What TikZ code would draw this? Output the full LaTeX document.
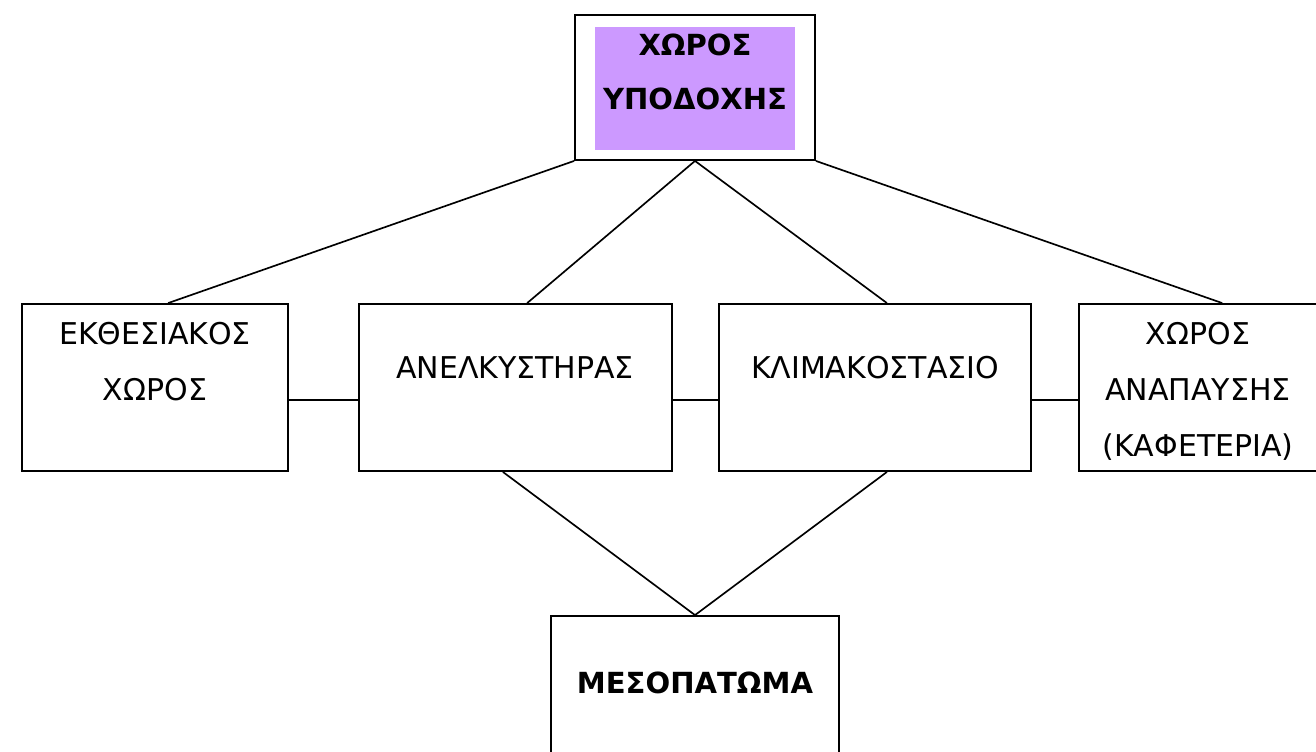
\documentclass[tikz,border=0pt]{standalone}
\usepackage{fontspec}
\setmainfont{DejaVu Sans}
\usetikzlibrary{fit,calc}
\definecolor{lilac}{HTML}{CC99FF}
\tikzset{
  box/.style={draw=black, line width=1.4pt, fill=white, inner sep=0pt},
  conn/.style={draw=black, line width=1.25pt},
  lbl/.style={font=\fontsize{22.5pt}{42pt}\selectfont, align=center, inner sep=0pt},
  blbl/.style={font=\fontsize{21.8pt}{41pt}\selectfont\bfseries, align=center, inner sep=0pt},
}
\begin{document}
\begin{tikzpicture}[x=0.75pt,y=-0.75pt]
\useasboundingbox (0,0) rectangle (1316,751);
\fill[white] (0,0) rectangle (1316,751);
\clip (0,0) rectangle (1316,751);
% boxes
\node[box, fit={(575,15) (815,160)}] (top) {};
\node[fill=lilac, inner sep=0pt, fit={(595,27) (795,150)}] (topfill) {};
\node[box, fit={(22,304) (288,471)}] (ekth) {};
\node[box, fit={(359,304) (672,471)}] (anel) {};
\node[box, fit={(719,304) (1031,471)}] (klim) {};
\node[box, fit={(1079,304) (1330,471)}] (anap) {};
\node[box, fit={(551,616) (839,780)}] (meso) {};
% texts
\node[blbl] (ttop) at (695,72) {ΧΩΡΟΣ\\ΥΠΟΔΟΧΗΣ};
\node[lbl] (tekth) at (155,362) {ΕΚΘΕΣΙΑΚΟΣ\\ΧΩΡΟΣ};
\node[lbl] (tanel) at (515,368) {ΑΝΕΛΚΥΣΤΗΡΑΣ};
\node[lbl] (tklim) at (875,368) {ΚΛΙΜΑΚΟΣΤΑΣΙΟ};
\node[lbl] (tanap) at (1198,391) {ΧΩΡΟΣ\\ΑΝΑΠΑΥΣΗΣ\\(ΚΑΦΕΤΕΡΙΑ)};
\node[blbl] (tmeso) at (695,683) {ΜΕΣΟΠΑΤΩΜΑ};
% connectors from top
\draw[conn] (top.south west) -- ($(ekth.north west)!0.549!(ekth.north east)$);
\draw[conn] (top.south) -- ($(anel.north west)!0.537!(anel.north east)$);
\draw[conn] (top.south) -- ($(klim.north west)!0.538!(klim.north east)$);
\draw[conn] (top.south east) -- ($(anap.north west)!0.57!(anap.north east)$);
% horizontal
\coordinate (h1) at ($(ekth.north east)!0.575!(ekth.south east)$);
\coordinate (h2) at ($(anel.north east)!0.575!(anel.south east)$);
\coordinate (h3) at ($(klim.north east)!0.575!(klim.south east)$);
\draw[conn] (h1) -- (anel.west |- h1);
\draw[conn] (h2) -- (klim.west |- h2);
\draw[conn] (h3) -- (anap.west |- h3);
% to mezzanine
\draw[conn] ($(anel.south west)!0.46!(anel.south east)$) -- (meso.north);
\draw[conn] ($(klim.south west)!0.538!(klim.south east)$) -- (meso.north);
\end{tikzpicture}
\end{document}
